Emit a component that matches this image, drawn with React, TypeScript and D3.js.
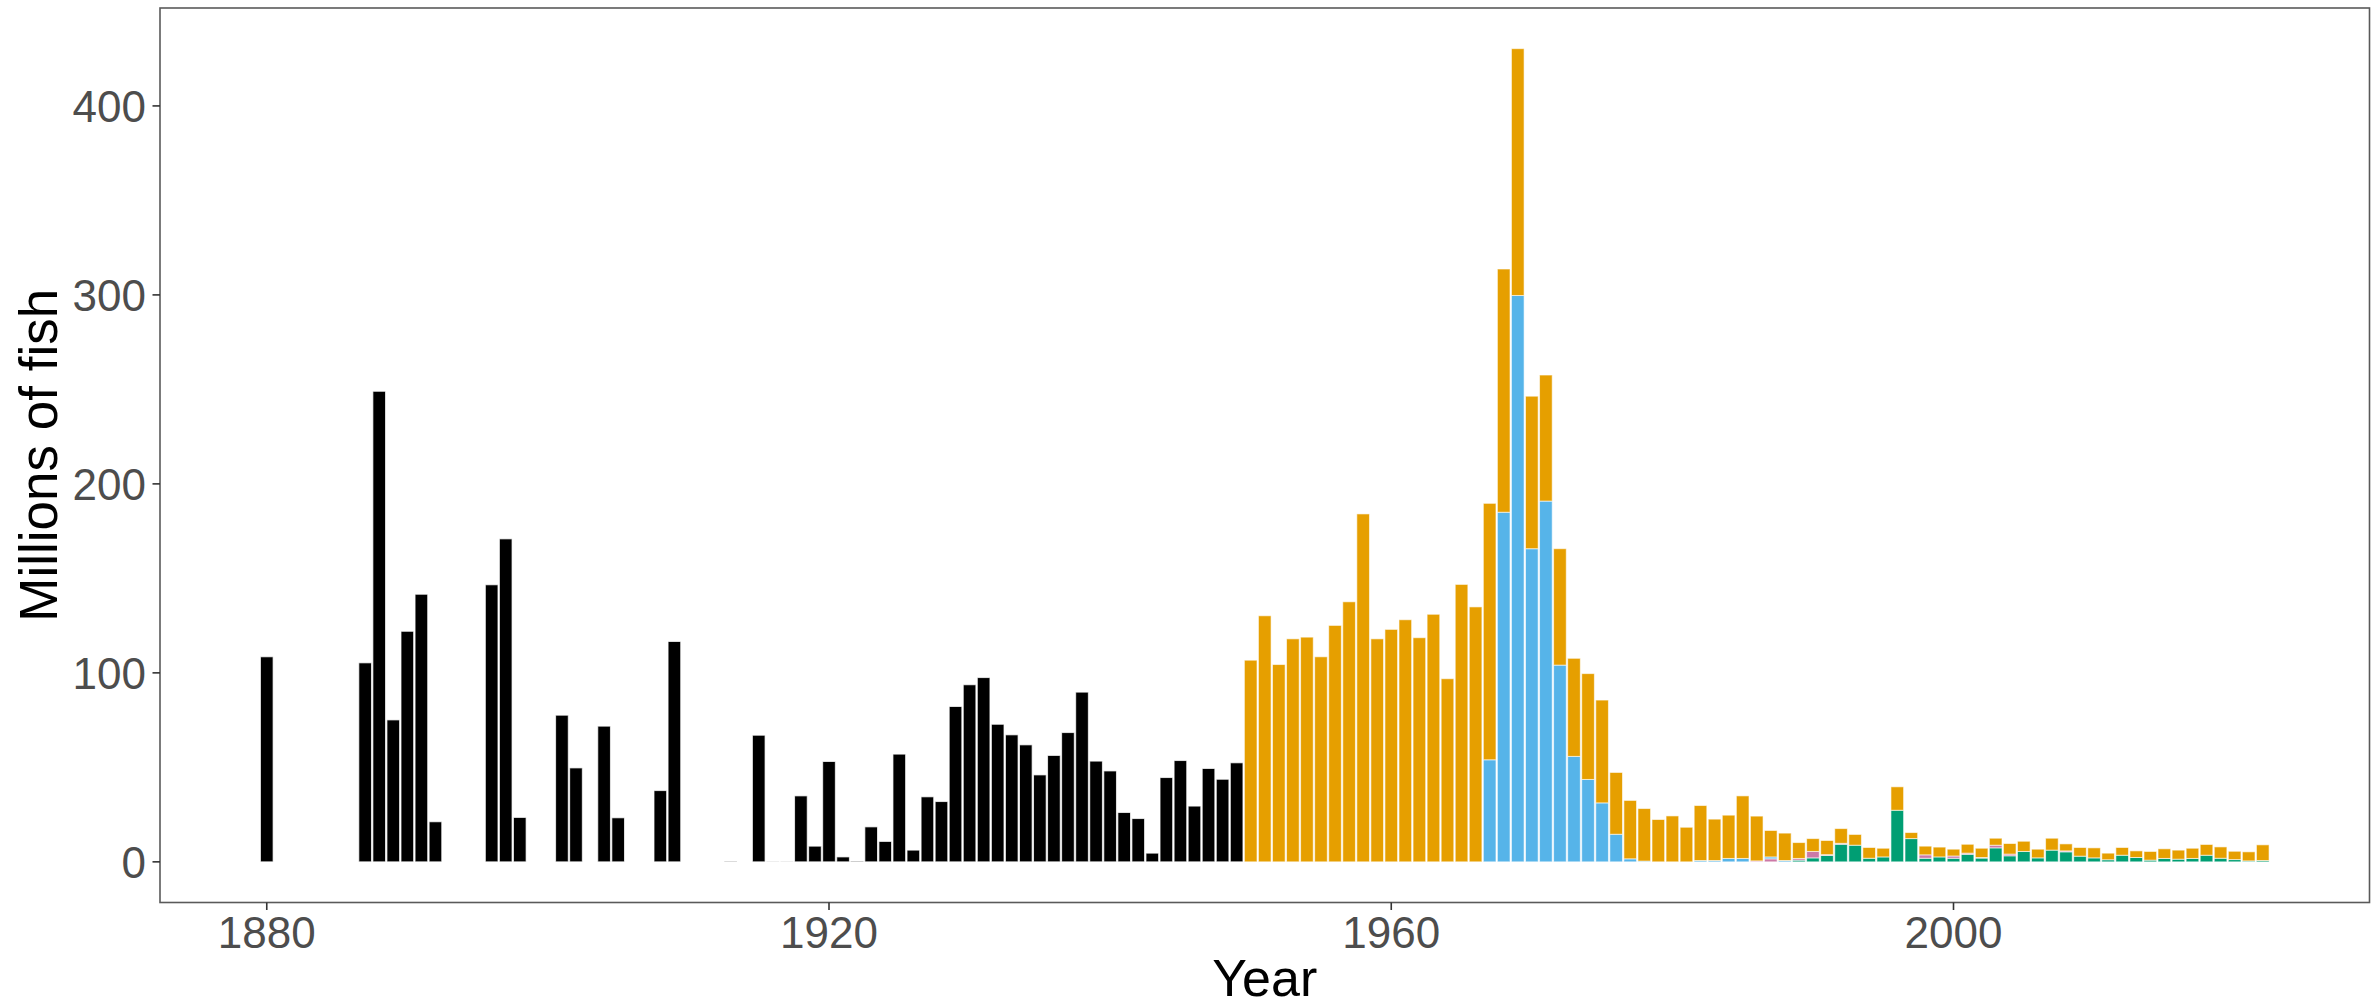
import React from "react";
import * as d3 from "d3";

const width = 2379;
const height = 1008;
const margin = { top: 8, right: 9.5, bottom: 105.5, left: 160 };

// pre-1950 totals (single black series), only years that have a bar
const earlyYears = [
  1880, 1887, 1888, 1889, 1890, 1891, 1892, 1896, 1897, 1898, 1901, 1902, 1904,
  1905, 1908, 1909, 1913, 1915, 1916, 1917, 1918, 1919, 1920, 1921, 1922, 1923,
  1924, 1925, 1926, 1927, 1928, 1929, 1930, 1931, 1932, 1933, 1934, 1935, 1936,
  1937, 1938, 1939, 1940, 1941, 1942, 1943, 1944, 1945, 1946, 1947, 1948, 1949
];
const earlyCatch = [
  108.5, 105.3, 249, 75.1, 122, 141.6, 21.2, 146.6, 170.9, 23.5, 77.6, 49.7, 71.8,
  23.3, 37.7, 116.6, 0.3, 67, 0.1, 0.1, 34.9, 8.3, 53.1, 2.6, 0.4, 18.5,
  10.8, 57, 6.2, 34.4, 31.9, 82.2, 93.7, 97.5, 72.8, 67.2, 61.9, 46, 56.3,
  68.4, 89.8, 53.3, 48.1, 26.1, 22.9, 4.6, 44.6, 53.6, 29.5, 49.4, 43.7, 52.4
];

// 1950 - 2022, stacked
const lateYears = d3.range(1950, 2023);
const orangeCatch = [
  106.7, 130.2, 104.4, 118.0, 118.9, 108.5, 125.1, 137.6, 184.1, 118.0,
  123.0, 128.1, 118.6, 131.0, 96.9, 146.8, 134.9, 135.7, 128.7, 130.6,
  80.7, 66.7, 61.6, 51.9, 56.0, 54.4, 32.7, 30.9, 27.8, 22.4,
  24.3, 18.3, 29.1, 21.9, 22.9, 33.1, 23.7, 14.0, 14.5, 8.4,
  6.8, 7.5, 7.8, 5.7, 5.7, 4.6, 12.4, 3.2, 4.6, 5.2,
  3.6, 4.7, 4.9, 3.7, 5.6, 5.4, 4.6, 6.3, 3.7, 4.6,
  5.3, 3.5, 4.1, 3.5, 4.6, 5.1, 4.8, 5.4, 5.7, 6.0,
  4.4, 4.8, 8.3
];
const blueCatch = [
  0, 0, 0, 0, 0, 0, 0, 0, 0, 0,
  0, 0, 0, 0, 0, 0, 0, 54.0, 185.0, 299.7,
  165.7, 190.9, 104.1, 55.8, 43.6, 31.2, 14.6, 1.6, 0.4, 0,
  0, 0, 0.7, 0.7, 1.8, 1.8, 0, 1.0, 0.7, 0,
  0, 0, 0, 0, 0, 0, 0, 0, 0, 0,
  0, 0, 0, 0, 0, 0, 0, 0, 0, 0,
  0, 0, 0, 0, 0, 0, 0, 0, 0, 0,
  0, 0, 0
];
const pinkCatch = [
  0, 0, 0, 0, 0, 0, 0, 0, 0, 0,
  0, 0, 0, 0, 0, 0, 0, 0, 0, 0,
  0, 0, 0, 0, 0, 0, 0, 0, 0, 0,
  0, 0, 0, 0, 0, 0, 0.5, 1.6, 0, 0.9,
  3.4, 0.4, 0.5, 0, 0, 0, 0, 0, 1.8, 0,
  1.2, 0.6, 0.3, 1.4, 0.9, 0, 0, 0, 0.5, 0,
  0, 0, 0, 0, 0, 0, 0, 0, 0, 0,
  0, 0, 0
];
const greenCatch = [
  0, 0, 0, 0, 0, 0, 0, 0, 0, 0,
  0, 0, 0, 0, 0, 0, 0, 0, 0, 0,
  0, 0, 0, 0, 0, 0, 0, 0, 0, 0,
  0, 0, 0, 0, 0, 0, 0, 0, 0, 0.9,
  2.1, 3.4, 9.3, 8.8, 1.9, 2.6, 27.3, 12.3, 1.9, 2.6,
  1.9, 4.0, 2.0, 7.4, 3.2, 5.5, 2.1, 6.2, 5.3, 3.0,
  2.1, 1.1, 3.5, 2.3, 0.9, 1.8, 1.4, 1.8, 3.5, 1.9,
  1.2, 0.5, 0.7
];

const xTicks = [1880, 1920, 1960, 2000];
const yTicks = [0, 100, 200, 300, 400];

const keys = ["green", "pink", "blue", "orange"];
const colors = {
  green: "#009E73",
  pink: "#CC79A7",
  blue: "#56B4E9",
  orange: "#E69F00",
  black: "#000000"
};

const font = "'Liberation Sans', Arial, sans-serif";

export default function App() {
  const rows = lateYears.map((year, i) => ({
    year,
    green: greenCatch[i],
    pink: pinkCatch[i],
    blue: blueCatch[i],
    orange: orangeCatch[i]
  }));
  const stacked = d3.stack().keys(keys)(rows);

  const allYears = [...earlyYears, ...lateYears];
  const xLo = d3.min(allYears) - 0.45;
  const xHi = d3.max(allYears) + 0.45;
  const xPad = (xHi - xLo) * 0.05;
  const xScale = d3
    .scaleLinear()
    .domain([xLo - xPad, xHi + xPad])
    .range([margin.left, width - margin.right]);

  const yMax = Math.max(
    d3.max(earlyCatch),
    d3.max(rows, d => d.green + d.pink + d.blue + d.orange)
  );
  const yPad = yMax * 0.05;
  const yScale = d3
    .scaleLinear()
    .domain([-yPad, yMax + yPad])
    .range([height - margin.bottom, margin.top]);

  const barW = xScale(0.9) - xScale(0);
  const px0 = margin.left;
  const px1 = width - margin.right;
  const py0 = margin.top;
  const py1 = height - margin.bottom;

  return (
    <svg
      width={width}
      height={height}
      style={{ position: "fixed", left: 0, top: 0, background: "#fff" }}
      fontFamily={font}
    >
      <rect x={0} y={0} width={width} height={height} fill="#fff" />

      {earlyYears.map((yr, i) => (
        <rect
          key={"e" + yr}
          x={xScale(yr) - barW / 2}
          y={yScale(earlyCatch[i])}
          width={barW}
          height={yScale(0) - yScale(earlyCatch[i])}
          fill={colors.black}
          stroke="#fff"
          strokeOpacity={0.75}
          strokeWidth={1}
        />
      ))}

      {stacked.map(layer =>
        layer.map(d =>
          d[1] - d[0] > 0 ? (
            <rect
              key={layer.key + d.data.year}
              x={xScale(d.data.year) - barW / 2}
              y={yScale(d[1])}
              width={barW}
              height={yScale(d[0]) - yScale(d[1])}
              fill={colors[layer.key]}
              stroke="#fff"
              strokeOpacity={0.6}
              strokeWidth={1}
            />
          ) : null
        )
      )}

      <rect
        x={px0}
        y={py0}
        width={px1 - px0}
        height={py1 - py0}
        fill="none"
        stroke="#5a5a5a"
        strokeWidth={1.6}
      />

      {yTicks.map(t => (
        <g key={"y" + t}>
          <line
            x1={px0 - 7.5}
            x2={px0}
            y1={yScale(t)}
            y2={yScale(t)}
            stroke="#333"
            strokeWidth={1.6}
          />
          <text
            x={px0 - 14}
            y={yScale(t)}
            dy="0.36em"
            textAnchor="end"
            fontSize={44}
            fill="#4D4D4D"
          >
            {t}
          </text>
        </g>
      ))}

      {xTicks.map(t => (
        <g key={"x" + t}>
          <line
            x1={xScale(t)}
            x2={xScale(t)}
            y1={py1}
            y2={py1 + 7.5}
            stroke="#333"
            strokeWidth={1.6}
          />
          <text
            x={xScale(t)}
            y={948}
            textAnchor="middle"
            fontSize={44}
            fill="#4D4D4D"
          >
            {t}
          </text>
        </g>
      ))}

      <text
        x={(px0 + px1) / 2}
        y={996}
        textAnchor="middle"
        fontSize={52}
        fill="#000"
      >
        Year
      </text>
      <text
        transform={`translate(57, ${(py0 + py1) / 2}) rotate(-90)`}
        textAnchor="middle"
        fontSize={53}
        fill="#000"
      >
        Millions of fish
      </text>
    </svg>
  );
}
